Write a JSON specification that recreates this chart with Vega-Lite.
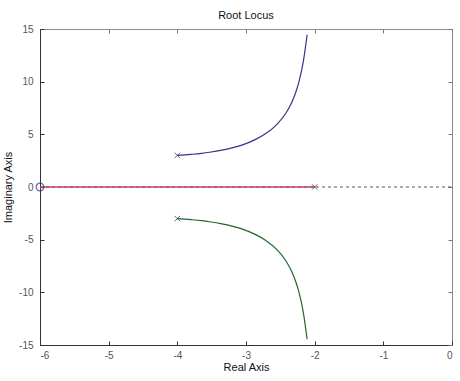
{
  "$schema": "https://vega.github.io/schema/vega-lite/v6.json",
  "autosize": {"type": "none"},
  "width": 412,
  "height": 316,
  "padding": {"left": 40, "top": 29, "right": 8, "bottom": 36},
  "background": "white",
  "config": {
    "font": "Liberation Sans",
    "view": {"stroke": "#8a8a8a", "strokeWidth": 1},
    "axis": {
      "grid": false,
      "domainColor": "#333333",
      "tickColor": "#333333",
      "tickSize": -4,
      "labelFont": "Liberation Sans",
      "labelFontSize": 10,
      "labelColor": "#555555",
      "titleFont": "Liberation Sans",
      "titleFontSize": 11,
      "titleFontWeight": "normal",
      "titleColor": "#111111"
    }
  },
  "title": {"text": "Root Locus", "fontSize": 11, "fontWeight": "normal", "font": "Liberation Sans", "color": "#111111", "offset": 3},
  "resolve": {"axis": {"x": "independent", "y": "independent"}},
  "datasets": {
    "upper": [
      {"re": -4.0, "im": 3.0, "k": 0},
      {"re": -3.89, "im": 3.05, "k": 1},
      {"re": -3.8, "im": 3.1, "k": 2},
      {"re": -3.645, "im": 3.2, "k": 3},
      {"re": -3.53, "im": 3.3, "k": 4},
      {"re": -3.35, "im": 3.5, "k": 5},
      {"re": -3.05, "im": 4.0, "k": 6},
      {"re": -2.866, "im": 4.5, "k": 7},
      {"re": -2.728, "im": 5.0, "k": 8},
      {"re": -2.542, "im": 6.0, "k": 9},
      {"re": -2.42, "im": 7.0, "k": 10},
      {"re": -2.336, "im": 8.0, "k": 11},
      {"re": -2.275, "im": 9.0, "k": 12},
      {"re": -2.228, "im": 10.0, "k": 13},
      {"re": -2.163, "im": 12.0, "k": 14},
      {"re": -2.11, "im": 14.45, "k": 15}
    ],
    "lower": [
      {"re": -4.0, "im": -3.0, "k": 0},
      {"re": -3.89, "im": -3.05, "k": 1},
      {"re": -3.8, "im": -3.1, "k": 2},
      {"re": -3.645, "im": -3.2, "k": 3},
      {"re": -3.53, "im": -3.3, "k": 4},
      {"re": -3.35, "im": -3.5, "k": 5},
      {"re": -3.05, "im": -4.0, "k": 6},
      {"re": -2.866, "im": -4.5, "k": 7},
      {"re": -2.728, "im": -5.0, "k": 8},
      {"re": -2.542, "im": -6.0, "k": 9},
      {"re": -2.42, "im": -7.0, "k": 10},
      {"re": -2.336, "im": -8.0, "k": 11},
      {"re": -2.275, "im": -9.0, "k": 12},
      {"re": -2.228, "im": -10.0, "k": 13},
      {"re": -2.163, "im": -12.0, "k": 14},
      {"re": -2.11, "im": -14.45, "k": 15}
    ],
    "realbranch": [
      {"re": -2.0, "im": 0, "k": 0},
      {"re": -6.0, "im": 0, "k": 1}
    ],
    "zeroline": [
      {"re": -6.0, "im": 0, "k": 0},
      {"re": 0.0, "im": 0, "k": 1}
    ],
    "poles": [
      {"re": -4.0, "im": 3.0, "branch": "upper"},
      {"re": -4.0, "im": -3.0, "branch": "lower"},
      {"re": -2.0, "im": 0.0, "branch": "real"}
    ],
    "zeros": [
      {"re": -6.0, "im": 0.0}
    ]
  },
  "layer": [
    {
      "data": {"name": "zeroline"},
      "mark": {"type": "line", "color": "#555555", "strokeWidth": 1, "strokeDash": [3, 3], "clip": true},
      "encoding": {
        "x": {"field": "re", "type": "quantitative", "scale": {"domain": [-6, 0], "nice": false, "zero": false},
              "axis": {"orient": "top", "labels": false, "title": null, "domain": false, "values": [-6, -5, -4, -3, -2, -1, 0], "tickColor": "#777777"}},
        "y": {"field": "im", "type": "quantitative", "scale": {"domain": [-15, 15], "nice": false, "zero": false},
              "axis": {"orient": "right", "labels": false, "title": null, "domain": false, "values": [-15, -10, -5, 0, 5, 10, 15], "tickColor": "#777777"}},
        "order": {"field": "k", "type": "quantitative"}
      }
    },
    {
      "data": {"name": "realbranch"},
      "mark": {"type": "line", "color": "#c2425e", "strokeWidth": 1.3, "clip": true},
      "encoding": {
        "x": {"field": "re", "type": "quantitative", "axis": {"orient": "bottom", "title": "Real Axis", "values": [-6, -5, -4, -3, -2, -1, 0], "labelExpr": "'' + datum.value", "labelPadding": 9, "titlePadding": 1}},
        "y": {"field": "im", "type": "quantitative", "axis": {"orient": "left", "title": "Imaginary Axis", "values": [-15, -10, -5, 0, 5, 10, 15], "labelExpr": "'' + datum.value", "labelPadding": 11, "titlePadding": 5}},
        "order": {"field": "k", "type": "quantitative"}
      }
    },
    {
      "data": {"name": "upper"},
      "mark": {"type": "line", "color": "#34348a", "strokeWidth": 1.2, "interpolate": "monotone", "clip": true},
      "encoding": {
        "x": {"field": "re", "type": "quantitative", "axis": null},
        "y": {"field": "im", "type": "quantitative", "axis": null},
        "order": {"field": "k", "type": "quantitative"}
      }
    },
    {
      "data": {"name": "lower"},
      "mark": {"type": "line", "color": "#22662a", "strokeWidth": 1.2, "interpolate": "monotone", "clip": true},
      "encoding": {
        "x": {"field": "re", "type": "quantitative", "axis": null},
        "y": {"field": "im", "type": "quantitative", "axis": null},
        "order": {"field": "k", "type": "quantitative"}
      }
    },
    {
      "data": {"name": "poles"},
      "mark": {"type": "point", "shape": "M-1,-1L1,1M-1,1L1,-1", "size": 30, "strokeWidth": 1, "filled": false, "color": "#2a2a55"},
      "encoding": {
        "x": {"field": "re", "type": "quantitative", "axis": null},
        "y": {"field": "im", "type": "quantitative", "axis": null}
      }
    },
    {
      "data": {"name": "zeros"},
      "mark": {"type": "point", "shape": "circle", "size": 60, "strokeWidth": 1.2, "filled": false, "color": "#2a2a90"},
      "encoding": {
        "x": {"field": "re", "type": "quantitative", "axis": null},
        "y": {"field": "im", "type": "quantitative", "axis": null}
      }
    }
  ]
}
